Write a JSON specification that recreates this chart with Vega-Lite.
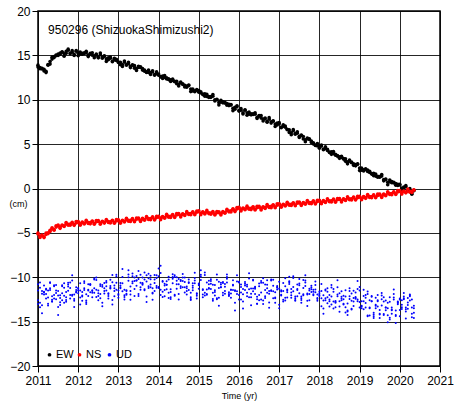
{
  "$schema": "https://vega.github.io/schema/vega-lite/v6.json",
  "width": 402,
  "height": 355,
  "autosize": {"type": "none"},
  "padding": {"left": 38, "top": 11, "right": 28, "bottom": 38},
  "background": "white",
  "config": {
    "font": "Liberation Sans",
    "view": {"stroke": "black", "strokeWidth": 1.5},
    "axis": {"grid": true, "labelColor": "black", "titleColor": "black", "tickColor": "black", "domain": false, "gridColor": "black", "gridOpacity": 0.85, "gridWidth": 1, "labelFontSize": 12, "tickSize": 6}
  },
  "data": {"values": [
{"t":2011.00,"EW":13.9,"EW2":13.68,"NS":-5.12,"NS2":-5.02,"UD":-11.5,"UD2":-12.6,"UD3":-10.8,"UD4":-13.0},
{"t":2011.05,"EW":13.5,"EW2":13.62,"NS":-5.37,"NS2":-5.51,"UD":-12.88,"UD2":-11.18,"UD3":-13.38,"UD4":-10.58},
{"t":2011.10,"EW":13.55,"EW2":13.47,"NS":-5.3,"NS2":-5.24,"UD":-11.85,"UD2":-13.15,"UD3":-11.55,"UD4":-14.05},
{"t":2011.15,"EW":13.25,"EW2":13.43,"NS":-5.45,"NS2":-5.53,"UD":-10.93,"UD2":-11.93,"UD3":-11.73,"UD4":-11.63},
{"t":2011.20,"EW":13.2,"EW2":13.06,"NS":-5.18,"NS2":-5.03,"UD":-12.4,"UD2":-11.3,"UD3":-11.9,"UD4":-11.4},
{"t":2011.25,"EW":13.9,"EW2":13.96,"NS":-5.08,"NS2":-4.98,"UD":-12.98,"UD2":-12.28,"UD3":-13.18,"UD4":-11.48},
{"t":2011.30,"EW":14.3,"EW2":14.02,"NS":-4.7,"NS2":-4.84,"UD":-11.45,"UD2":-10.65,"UD3":-10.55,"UD4":-11.25},
{"t":2011.35,"EW":14.8,"EW2":14.58,"NS":-4.5,"NS2":-4.44,"UD":-12.13,"UD2":-12.73,"UD3":-12.73,"UD4":-12.53},
{"t":2011.40,"EW":14.75,"EW2":14.87,"NS":-4.62,"NS2":-4.7,"UD":-11.0,"UD2":-12.0,"UD3":-10.9,"UD4":-12.4},
{"t":2011.45,"EW":15.05,"EW2":14.97,"NS":-4.35,"NS2":-4.2,"UD":-12.48,"UD2":-11.48,"UD3":-11.78,"UD4":-10.88},
{"t":2011.50,"EW":14.98,"EW2":15.16,"NS":-4.22,"NS2":-4.12,"UD":-11.55,"UD2":-13.35,"UD3":-12.05,"UD4":-14.25},
{"t":2011.55,"EW":15.26,"EW2":15.12,"NS":-4.35,"NS2":-4.49,"UD":-13.13,"UD2":-12.33,"UD3":-12.83,"UD4":-12.03},
{"t":2011.60,"EW":15.35,"EW2":15.41,"NS":-4.17,"NS2":-4.11,"UD":-11.8,"UD2":-10.9,"UD3":-12.6,"UD4":-11.0},
{"t":2011.65,"EW":15.18,"EW2":14.9,"NS":-4.2,"NS2":-4.28,"UD":-11.18,"UD2":-12.88,"UD3":-10.68,"UD4":-12.08},
{"t":2011.70,"EW":15.45,"EW2":15.23,"NS":-3.98,"NS2":-3.83,"UD":-12.55,"UD2":-11.65,"UD3":-12.75,"UD4":-12.25},
{"t":2011.75,"EW":15.58,"EW2":15.7,"NS":-4.13,"NS2":-4.03,"UD":-11.53,"UD2":-11.03,"UD3":-10.63,"UD4":-10.83},
{"t":2011.80,"EW":15.27,"EW2":15.19,"NS":-4.0,"NS2":-4.14,"UD":-10.6,"UD2":-12.0,"UD3":-11.2,"UD4":-12.4},
{"t":2011.85,"EW":15.35,"EW2":15.53,"NS":-3.88,"NS2":-3.82,"UD":-12.08,"UD2":-10.38,"UD3":-11.98,"UD4":-9.78},
{"t":2011.90,"EW":15.13,"EW2":14.99,"NS":-4.07,"NS2":-4.15,"UD":-12.65,"UD2":-12.45,"UD3":-11.95,"UD4":-13.35},
{"t":2011.95,"EW":15.47,"EW2":15.53,"NS":-3.88,"NS2":-3.73,"UD":-11.13,"UD2":-11.73,"UD3":-11.63,"UD4":-11.43},
{"t":2012.00,"EW":15.25,"EW2":14.97,"NS":-3.82,"NS2":-3.72,"UD":-11.8,"UD2":-11.2,"UD3":-11.5,"UD4":-11.3},
{"t":2012.05,"EW":15.37,"EW2":15.15,"NS":-3.99,"NS2":-4.13,"UD":-10.68,"UD2":-13.08,"UD3":-11.48,"UD4":-12.28},
{"t":2012.10,"EW":15.12,"EW2":15.24,"NS":-3.85,"NS2":-3.79,"UD":-12.16,"UD2":-12.06,"UD3":-11.66,"UD4":-12.66},
{"t":2012.15,"EW":15.29,"EW2":15.21,"NS":-3.92,"NS2":-4.0,"UD":-11.24,"UD2":-10.64,"UD3":-11.44,"UD4":-10.44},
{"t":2012.20,"EW":15.28,"EW2":15.46,"NS":-3.74,"NS2":-3.59,"UD":-12.82,"UD2":-12.62,"UD3":-11.92,"UD4":-13.02},
{"t":2012.25,"EW":15.0,"EW2":14.86,"NS":-3.93,"NS2":-3.83,"UD":-11.5,"UD2":-11.4,"UD3":-12.1,"UD4":-10.8},
{"t":2012.30,"EW":15.17,"EW2":15.23,"NS":-3.84,"NS2":-3.98,"UD":-10.88,"UD2":-10.78,"UD3":-10.78,"UD4":-11.68},
{"t":2012.35,"EW":15.29,"EW2":15.01,"NS":-3.73,"NS2":-3.67,"UD":-12.26,"UD2":-11.76,"UD3":-11.56,"UD4":-11.46},
{"t":2012.40,"EW":14.96,"EW2":14.74,"NS":-3.94,"NS2":-4.02,"UD":-11.24,"UD2":-10.14,"UD3":-11.74,"UD4":-10.24},
{"t":2012.45,"EW":15.03,"EW2":15.15,"NS":-3.76,"NS2":-3.61,"UD":-10.32,"UD2":-12.22,"UD3":-10.02,"UD4":-11.42},
{"t":2012.50,"EW":14.8,"EW2":14.72,"NS":-3.72,"NS2":-3.62,"UD":-11.8,"UD2":-11.5,"UD3":-12.6,"UD4":-12.1},
{"t":2012.55,"EW":15.08,"EW2":15.26,"NS":-3.89,"NS2":-4.03,"UD":-12.38,"UD2":-10.98,"UD3":-11.88,"UD4":-10.78},
{"t":2012.60,"EW":14.81,"EW2":14.67,"NS":-3.75,"NS2":-3.69,"UD":-10.86,"UD2":-12.86,"UD3":-11.06,"UD4":-13.26},
{"t":2012.65,"EW":14.89,"EW2":14.95,"NS":-3.82,"NS2":-3.9,"UD":-11.54,"UD2":-11.84,"UD3":-10.64,"UD4":-11.24},
{"t":2012.70,"EW":14.6,"EW2":14.32,"NS":-3.64,"NS2":-3.49,"UD":-10.42,"UD2":-10.6,"UD3":-11.02,"UD4":-11.5},
{"t":2012.75,"EW":14.73,"EW2":14.51,"NS":-3.83,"NS2":-3.73,"UD":-11.9,"UD2":-12.4,"UD3":-11.8,"UD4":-12.1},
{"t":2012.80,"EW":14.68,"EW2":14.8,"NS":-3.74,"NS2":-3.88,"UD":-10.98,"UD2":-11.18,"UD3":-10.28,"UD4":-11.28},
{"t":2012.85,"EW":14.36,"EW2":14.28,"NS":-3.63,"NS2":-3.57,"UD":-12.56,"UD2":-10.56,"UD3":-13.06,"UD4":-9.76},
{"t":2012.90,"EW":14.49,"EW2":14.67,"NS":-3.84,"NS2":-3.92,"UD":-11.24,"UD2":-11.54,"UD3":-10.94,"UD4":-12.14},
{"t":2012.95,"EW":14.57,"EW2":14.43,"NS":-3.66,"NS2":-3.51,"UD":-10.62,"UD2":-9.92,"UD3":-11.42,"UD4":-9.72},
{"t":2013.00,"EW":14.2,"EW2":14.26,"NS":-3.62,"NS2":-3.52,"UD":-12.0,"UD2":-11.9,"UD3":-11.5,"UD4":-12.3},
{"t":2013.05,"EW":14.23,"EW2":13.95,"NS":-3.78,"NS2":-3.92,"UD":-10.94,"UD2":-11.24,"UD3":-11.14,"UD4":-10.64},
{"t":2013.10,"EW":13.96,"EW2":13.74,"NS":-3.63,"NS2":-3.57,"UD":-9.98,"UD2":-10.68,"UD3":-9.08,"UD4":-11.58},
{"t":2013.15,"EW":14.24,"EW2":14.36,"NS":-3.69,"NS2":-3.77,"UD":-11.42,"UD2":-12.52,"UD3":-12.02,"UD4":-12.22},
{"t":2013.20,"EW":13.97,"EW2":13.89,"NS":-3.5,"NS2":-3.35,"UD":-11.96,"UD2":-11.46,"UD3":-11.86,"UD4":-11.56},
{"t":2013.25,"EW":14.05,"EW2":14.23,"NS":-3.68,"NS2":-3.58,"UD":-10.4,"UD2":-10.0,"UD3":-9.7,"UD4":-9.2},
{"t":2013.30,"EW":13.76,"EW2":13.62,"NS":-3.58,"NS2":-3.72,"UD":-11.04,"UD2":-11.94,"UD3":-11.54,"UD4":-12.54},
{"t":2013.35,"EW":13.89,"EW2":13.95,"NS":-3.46,"NS2":-3.4,"UD":-9.88,"UD2":-10.68,"UD3":-9.58,"UD4":-10.48},
{"t":2013.40,"EW":13.84,"EW2":13.56,"NS":-3.66,"NS2":-3.74,"UD":-11.32,"UD2":-10.02,"UD3":-12.12,"UD4":-10.42},
{"t":2013.45,"EW":13.52,"EW2":13.3,"NS":-3.47,"NS2":-3.32,"UD":-10.36,"UD2":-10.96,"UD3":-9.86,"UD4":-10.36},
{"t":2013.50,"EW":13.65,"EW2":13.77,"NS":-3.42,"NS2":-3.32,"UD":-11.9,"UD2":-9.3,"UD3":-12.1,"UD4":-10.2},
{"t":2013.55,"EW":13.72,"EW2":13.64,"NS":-3.58,"NS2":-3.72,"UD":-10.62,"UD2":-11.42,"UD3":-9.72,"UD4":-11.12},
{"t":2013.60,"EW":13.34,"EW2":13.52,"NS":-3.43,"NS2":-3.37,"UD":-10.04,"UD2":-10.74,"UD3":-10.64,"UD4":-10.84},
{"t":2013.65,"EW":13.36,"EW2":13.22,"NS":-3.49,"NS2":-3.57,"UD":-11.46,"UD2":-10.26,"UD3":-11.36,"UD4":-9.46},
{"t":2013.70,"EW":13.08,"EW2":13.14,"NS":-3.3,"NS2":-3.15,"UD":-10.48,"UD2":-12.18,"UD3":-9.78,"UD4":-12.78},
{"t":2013.75,"EW":13.35,"EW2":13.07,"NS":-3.48,"NS2":-3.38,"UD":-9.6,"UD2":-11.2,"UD3":-10.1,"UD4":-11.0},
{"t":2013.80,"EW":13.07,"EW2":12.85,"NS":-3.38,"NS2":-3.52,"UD":-11.12,"UD2":-9.82,"UD3":-10.82,"UD4":-10.22},
{"t":2013.85,"EW":13.14,"EW2":13.26,"NS":-3.26,"NS2":-3.2,"UD":-11.74,"UD2":-11.84,"UD3":-12.54,"UD4":-11.24},
{"t":2013.90,"EW":12.84,"EW2":12.76,"NS":-3.46,"NS2":-3.54,"UD":-10.26,"UD2":-10.66,"UD3":-9.76,"UD4":-11.56},
{"t":2013.95,"EW":12.96,"EW2":13.14,"NS":-3.27,"NS2":-3.12,"UD":-10.98,"UD2":-10.08,"UD3":-11.18,"UD4":-9.78},
{"t":2014.00,"EW":12.9,"EW2":12.76,"NS":-3.22,"NS2":-3.12,"UD":-9.9,"UD2":-11.1,"UD3":-9.0,"UD4":-11.2},
{"t":2014.05,"EW":12.56,"EW2":12.62,"NS":-3.37,"NS2":-3.51,"UD":-11.41,"UD2":-9.51,"UD3":-12.01,"UD4":-8.71},
{"t":2014.10,"EW":12.67,"EW2":12.39,"NS":-3.21,"NS2":-3.15,"UD":-10.52,"UD2":-11.62,"UD3":-10.42,"UD4":-12.22},
{"t":2014.15,"EW":12.73,"EW2":12.51,"NS":-3.26,"NS2":-3.34,"UD":-12.13,"UD2":-10.93,"UD3":-11.43,"UD4":-10.73},
{"t":2014.20,"EW":12.34,"EW2":12.46,"NS":-3.06,"NS2":-2.91,"UD":-10.84,"UD2":-10.44,"UD3":-11.34,"UD4":-10.84},
{"t":2014.25,"EW":12.35,"EW2":12.27,"NS":-3.23,"NS2":-3.13,"UD":-10.25,"UD2":-12.35,"UD3":-9.95,"UD4":-11.75},
{"t":2014.30,"EW":12.06,"EW2":12.24,"NS":-3.12,"NS2":-3.26,"UD":-11.66,"UD2":-11.36,"UD3":-12.46,"UD4":-12.26},
{"t":2014.35,"EW":12.32,"EW2":12.18,"NS":-2.99,"NS2":-2.93,"UD":-10.67,"UD2":-9.97,"UD3":-10.17,"UD4":-9.67},
{"t":2014.40,"EW":12.03,"EW2":12.09,"NS":-3.18,"NS2":-3.26,"UD":-9.78,"UD2":-11.98,"UD3":-9.98,"UD4":-12.08},
{"t":2014.45,"EW":12.09,"EW2":11.81,"NS":-2.98,"NS2":-2.83,"UD":-11.29,"UD2":-10.79,"UD3":-10.39,"UD4":-9.99},
{"t":2014.50,"EW":11.78,"EW2":11.56,"NS":-2.92,"NS2":-2.82,"UD":-11.9,"UD2":-10.2,"UD3":-12.5,"UD4":-10.8},
{"t":2014.55,"EW":11.88,"EW2":12.0,"NS":-3.07,"NS2":-3.21,"UD":-10.41,"UD2":-11.21,"UD3":-10.31,"UD4":-11.01},
{"t":2014.60,"EW":11.8,"EW2":11.72,"NS":-2.91,"NS2":-2.85,"UD":-11.12,"UD2":-9.62,"UD3":-10.42,"UD4":-10.02},
{"t":2014.65,"EW":11.45,"EW2":11.63,"NS":-2.96,"NS2":-3.04,"UD":-10.03,"UD2":-11.73,"UD3":-10.53,"UD4":-11.13},
{"t":2014.70,"EW":11.55,"EW2":11.41,"NS":-2.76,"NS2":-2.61,"UD":-11.54,"UD2":-11.04,"UD3":-11.24,"UD4":-11.94},
{"t":2014.75,"EW":11.6,"EW2":11.66,"NS":-2.93,"NS2":-2.83,"UD":-10.65,"UD2":-10.55,"UD3":-11.45,"UD4":-10.25},
{"t":2014.80,"EW":11.2,"EW2":10.92,"NS":-2.82,"NS2":-2.96,"UD":-12.26,"UD2":-12.46,"UD3":-11.76,"UD4":-12.56},
{"t":2014.85,"EW":11.2,"EW2":10.98,"NS":-2.69,"NS2":-2.63,"UD":-10.97,"UD2":-11.47,"UD3":-11.17,"UD4":-10.67},
{"t":2014.90,"EW":10.9,"EW2":11.02,"NS":-2.88,"NS2":-2.96,"UD":-10.38,"UD2":-10.08,"UD3":-9.48,"UD4":-10.68},
{"t":2014.95,"EW":11.15,"EW2":11.07,"NS":-2.68,"NS2":-2.53,"UD":-11.79,"UD2":-12.09,"UD3":-12.39,"UD4":-11.89},
{"t":2015.00,"EW":10.85,"EW2":11.03,"NS":-2.62,"NS2":-2.52,"UD":-10.8,"UD2":-10.9,"UD3":-10.7,"UD4":-11.3},
{"t":2015.05,"EW":10.9,"EW2":10.76,"NS":-2.81,"NS2":-2.95,"UD":-9.92,"UD2":-10.32,"UD3":-9.22,"UD4":-9.72},
{"t":2015.10,"EW":10.58,"EW2":10.64,"NS":-2.69,"NS2":-2.63,"UD":-11.44,"UD2":-11.34,"UD3":-11.94,"UD4":-12.24},
{"t":2015.15,"EW":10.68,"EW2":10.4,"NS":-2.78,"NS2":-2.86,"UD":-12.06,"UD2":-9.76,"UD3":-11.76,"UD4":-9.46},
{"t":2015.20,"EW":10.6,"EW2":10.38,"NS":-2.62,"NS2":-2.47,"UD":-10.58,"UD2":-11.88,"UD3":-11.38,"UD4":-11.98},
{"t":2015.25,"EW":10.25,"EW2":10.37,"NS":-2.83,"NS2":-2.73,"UD":-11.3,"UD2":-11.2,"UD3":-10.8,"UD4":-10.4},
{"t":2015.30,"EW":10.35,"EW2":10.27,"NS":-2.76,"NS2":-2.9,"UD":-10.22,"UD2":-10.72,"UD3":-10.42,"UD4":-11.32},
{"t":2015.35,"EW":10.4,"EW2":10.58,"NS":-2.67,"NS2":-2.61,"UD":-11.74,"UD2":-12.64,"UD3":-10.84,"UD4":-12.44},
{"t":2015.40,"EW":10.0,"EW2":9.86,"NS":-2.9,"NS2":-2.98,"UD":-10.86,"UD2":-11.66,"UD3":-11.46,"UD4":-12.06},
{"t":2015.45,"EW":10.0,"EW2":10.06,"NS":-2.74,"NS2":-2.59,"UD":-12.48,"UD2":-10.28,"UD3":-12.38,"UD4":-9.68},
{"t":2015.50,"EW":9.7,"EW2":9.42,"NS":-2.72,"NS2":-2.62,"UD":-11.2,"UD2":-12.3,"UD3":-10.5,"UD4":-13.2},
{"t":2015.55,"EW":9.95,"EW2":9.73,"NS":-2.85,"NS2":-2.99,"UD":-10.62,"UD2":-11.12,"UD3":-11.12,"UD4":-10.82},
{"t":2015.60,"EW":9.65,"EW2":9.77,"NS":-2.67,"NS2":-2.61,"UD":-12.04,"UD2":-10.54,"UD3":-11.74,"UD4":-10.64},
{"t":2015.65,"EW":9.7,"EW2":9.62,"NS":-2.7,"NS2":-2.78,"UD":-11.06,"UD2":-11.56,"UD3":-11.86,"UD4":-10.76},
{"t":2015.70,"EW":9.38,"EW2":9.56,"NS":-2.48,"NS2":-2.33,"UD":-10.18,"UD2":-9.98,"UD3":-9.68,"UD4":-10.58},
{"t":2015.75,"EW":9.48,"EW2":9.34,"NS":-2.63,"NS2":-2.53,"UD":-11.7,"UD2":-12.1,"UD3":-11.9,"UD4":-12.0},
{"t":2015.80,"EW":9.4,"EW2":9.46,"NS":-2.5,"NS2":-2.64,"UD":-12.32,"UD2":-11.42,"UD3":-11.42,"UD4":-11.82},
{"t":2015.85,"EW":9.05,"EW2":8.77,"NS":-2.35,"NS2":-2.29,"UD":-10.84,"UD2":-10.94,"UD3":-11.44,"UD4":-10.34},
{"t":2015.90,"EW":9.15,"EW2":8.93,"NS":-2.52,"NS2":-2.6,"UD":-11.56,"UD2":-12.86,"UD3":-11.46,"UD4":-13.76},
{"t":2015.95,"EW":9.2,"EW2":9.32,"NS":-2.3,"NS2":-2.15,"UD":-10.48,"UD2":-11.88,"UD3":-9.78,"UD4":-11.58},
{"t":2016.00,"EW":8.8,"EW2":8.72,"NS":-2.22,"NS2":-2.12,"UD":-12.0,"UD2":-10.5,"UD3":-12.5,"UD4":-10.6},
{"t":2016.05,"EW":8.82,"EW2":9.0,"NS":-2.39,"NS2":-2.53,"UD":-11.11,"UD2":-12.51,"UD3":-10.81,"UD4":-11.71},
{"t":2016.10,"EW":8.54,"EW2":8.4,"NS":-2.25,"NS2":-2.19,"UD":-12.72,"UD2":-11.32,"UD3":-13.52,"UD4":-11.92},
{"t":2016.15,"EW":8.81,"EW2":8.87,"NS":-2.32,"NS2":-2.4,"UD":-11.43,"UD2":-10.73,"UD3":-10.93,"UD4":-10.53},
{"t":2016.20,"EW":8.53,"EW2":8.25,"NS":-2.14,"NS2":-1.99,"UD":-10.84,"UD2":-11.74,"UD3":-11.04,"UD4":-12.14},
{"t":2016.25,"EW":8.6,"EW2":8.38,"NS":-2.33,"NS2":-2.23,"UD":-12.25,"UD2":-10.15,"UD3":-11.35,"UD4":-9.55},
{"t":2016.30,"EW":8.3,"EW2":8.42,"NS":-2.24,"NS2":-2.38,"UD":-11.26,"UD2":-12.26,"UD3":-11.86,"UD4":-13.16},
{"t":2016.35,"EW":8.42,"EW2":8.34,"NS":-2.13,"NS2":-2.07,"UD":-10.37,"UD2":-11.57,"UD3":-10.27,"UD4":-11.27},
{"t":2016.40,"EW":8.36,"EW2":8.54,"NS":-2.34,"NS2":-2.42,"UD":-11.88,"UD2":-11.08,"UD3":-11.18,"UD4":-11.3},
{"t":2016.45,"EW":8.03,"EW2":7.89,"NS":-2.16,"NS2":-2.01,"UD":-12.49,"UD2":-12.99,"UD3":-12.99,"UD4":-12.19},
{"t":2016.50,"EW":8.15,"EW2":8.21,"NS":-2.12,"NS2":-2.02,"UD":-11.0,"UD2":-12.0,"UD3":-10.7,"UD4":-12.6},
{"t":2016.55,"EW":8.21,"EW2":7.93,"NS":-2.27,"NS2":-2.41,"UD":-11.71,"UD2":-10.61,"UD3":-12.51,"UD4":-10.41},
{"t":2016.60,"EW":7.82,"EW2":7.6,"NS":-2.11,"NS2":-2.05,"UD":-10.62,"UD2":-12.62,"UD3":-10.12,"UD4":-13.02},
{"t":2016.65,"EW":7.83,"EW2":7.95,"NS":-2.16,"NS2":-2.24,"UD":-12.13,"UD2":-11.43,"UD3":-12.33,"UD4":-10.83},
{"t":2016.70,"EW":7.54,"EW2":7.46,"NS":-1.96,"NS2":-1.81,"UD":-11.24,"UD2":-10.84,"UD3":-10.34,"UD4":-11.74},
{"t":2016.75,"EW":7.8,"EW2":7.98,"NS":-2.13,"NS2":-2.03,"UD":-12.85,"UD2":-11.85,"UD3":-13.45,"UD4":-11.55},
{"t":2016.80,"EW":7.51,"EW2":7.37,"NS":-2.02,"NS2":-2.16,"UD":-11.56,"UD2":-10.26,"UD3":-11.46,"UD4":-10.36},
{"t":2016.85,"EW":7.57,"EW2":7.63,"NS":-1.89,"NS2":-1.83,"UD":-10.97,"UD2":-12.37,"UD3":-10.27,"UD4":-11.57},
{"t":2016.90,"EW":7.26,"EW2":6.98,"NS":-2.08,"NS2":-2.16,"UD":-12.38,"UD2":-11.68,"UD3":-12.88,"UD4":-12.28},
{"t":2016.95,"EW":7.37,"EW2":7.15,"NS":-1.88,"NS2":-1.73,"UD":-11.39,"UD2":-11.19,"UD3":-11.09,"UD4":-10.99},
{"t":2017.00,"EW":7.3,"EW2":7.42,"NS":-1.82,"NS2":-1.72,"UD":-10.5,"UD2":-13.1,"UD3":-11.3,"UD4":-13.5},
{"t":2017.05,"EW":6.93,"EW2":6.85,"NS":-1.98,"NS2":-2.12,"UD":-11.97,"UD2":-12.07,"UD3":-11.47,"UD4":-11.6},
{"t":2017.10,"EW":7.01,"EW2":7.19,"NS":-1.83,"NS2":-1.77,"UD":-12.54,"UD2":-10.64,"UD3":-12.74,"UD4":-11.54},
{"t":2017.15,"EW":7.04,"EW2":6.9,"NS":-1.89,"NS2":-1.97,"UD":-11.01,"UD2":-12.61,"UD3":-10.11,"UD4":-12.31},
{"t":2017.20,"EW":6.62,"EW2":6.68,"NS":-1.7,"NS2":-1.55,"UD":-11.68,"UD2":-11.38,"UD3":-12.28,"UD4":-11.48},
{"t":2017.25,"EW":6.6,"EW2":6.32,"NS":-1.88,"NS2":-1.78,"UD":-10.55,"UD2":-10.75,"UD3":-10.45,"UD4":-9.95},
{"t":2017.30,"EW":6.28,"EW2":6.06,"NS":-1.78,"NS2":-1.92,"UD":-12.02,"UD2":-11.72,"UD3":-11.32,"UD4":-12.32},
{"t":2017.35,"EW":6.51,"EW2":6.63,"NS":-1.66,"NS2":-1.6,"UD":-11.09,"UD2":-10.09,"UD3":-11.59,"UD4":-9.89},
{"t":2017.40,"EW":6.19,"EW2":6.11,"NS":-1.86,"NS2":-1.94,"UD":-12.66,"UD2":-12.16,"UD3":-12.36,"UD4":-12.56},
{"t":2017.45,"EW":6.22,"EW2":6.4,"NS":-1.67,"NS2":-1.52,"UD":-11.33,"UD2":-11.43,"UD3":-12.13,"UD4":-10.83},
{"t":2017.50,"EW":5.88,"EW2":5.74,"NS":-1.62,"NS2":-1.52,"UD":-10.7,"UD2":-10.9,"UD3":-10.2,"UD4":-11.8},
{"t":2017.55,"EW":5.96,"EW2":6.02,"NS":-1.78,"NS2":-1.92,"UD":-12.16,"UD2":-12.86,"UD3":-12.36,"UD4":-12.56},
{"t":2017.60,"EW":5.86,"EW2":5.58,"NS":-1.63,"NS2":-1.57,"UD":-11.22,"UD2":-11.92,"UD3":-10.32,"UD4":-12.02},
{"t":2017.65,"EW":5.49,"EW2":5.27,"NS":-1.69,"NS2":-1.77,"UD":-10.38,"UD2":-10.58,"UD3":-10.98,"UD4":-9.78},
{"t":2017.70,"EW":5.57,"EW2":5.69,"NS":-1.5,"NS2":-1.35,"UD":-11.94,"UD2":-12.64,"UD3":-11.84,"UD4":-13.24},
{"t":2017.75,"EW":5.6,"EW2":5.52,"NS":-1.68,"NS2":-1.58,"UD":-12.6,"UD2":-11.5,"UD3":-11.9,"UD4":-11.3},
{"t":2017.80,"EW":5.18,"EW2":5.36,"NS":-1.58,"NS2":-1.72,"UD":-11.16,"UD2":-10.96,"UD3":-11.66,"UD4":-11.36},
{"t":2017.85,"EW":5.16,"EW2":5.02,"NS":-1.46,"NS2":-1.4,"UD":-11.92,"UD2":-12.02,"UD3":-11.62,"UD4":-11.42},
{"t":2017.90,"EW":4.84,"EW2":4.9,"NS":-1.66,"NS2":-1.74,"UD":-10.88,"UD2":-10.48,"UD3":-11.68,"UD4":-11.38},
{"t":2017.95,"EW":5.07,"EW2":4.79,"NS":-1.47,"NS2":-1.32,"UD":-12.44,"UD2":-12.64,"UD3":-11.94,"UD4":-12.34},
{"t":2018.00,"EW":4.75,"EW2":4.53,"NS":-1.42,"NS2":-1.32,"UD":-11.6,"UD2":-12.0,"UD3":-11.8,"UD4":-12.1},
{"t":2018.05,"EW":4.78,"EW2":4.9,"NS":-1.58,"NS2":-1.72,"UD":-13.26,"UD2":-11.56,"UD3":-12.36,"UD4":-10.76},
{"t":2018.10,"EW":4.44,"EW2":4.36,"NS":-1.43,"NS2":-1.37,"UD":-12.02,"UD2":-13.52,"UD3":-12.62,"UD4":-14.12},
{"t":2018.15,"EW":4.52,"EW2":4.7,"NS":-1.49,"NS2":-1.57,"UD":-11.48,"UD2":-12.58,"UD3":-11.38,"UD4":-12.38},
{"t":2018.20,"EW":4.42,"EW2":4.28,"NS":-1.3,"NS2":-1.15,"UD":-12.94,"UD2":-11.24,"UD3":-12.24,"UD4":-11.64},
{"t":2018.25,"EW":4.05,"EW2":4.11,"NS":-1.48,"NS2":-1.38,"UD":-12.0,"UD2":-13.3,"UD3":-12.5,"UD4":-12.7},
{"t":2018.30,"EW":4.13,"EW2":3.85,"NS":-1.38,"NS2":-1.52,"UD":-11.16,"UD2":-12.16,"UD3":-10.86,"UD4":-13.06},
{"t":2018.35,"EW":4.16,"EW2":3.94,"NS":-1.26,"NS2":-1.2,"UD":-12.72,"UD2":-11.62,"UD3":-13.52,"UD4":-11.32},
{"t":2018.40,"EW":3.74,"EW2":3.86,"NS":-1.46,"NS2":-1.54,"UD":-13.38,"UD2":-12.68,"UD3":-12.88,"UD4":-12.78},
{"t":2018.45,"EW":3.72,"EW2":3.64,"NS":-1.27,"NS2":-1.12,"UD":-11.94,"UD2":-11.14,"UD3":-12.14,"UD4":-10.34},
{"t":2018.50,"EW":3.4,"EW2":3.58,"NS":-1.22,"NS2":-1.12,"UD":-12.7,"UD2":-13.3,"UD3":-11.8,"UD4":-13.9},
{"t":2018.55,"EW":3.63,"EW2":3.49,"NS":-1.38,"NS2":-1.52,"UD":-11.59,"UD2":-12.59,"UD3":-12.19,"UD4":-12.39},
{"t":2018.60,"EW":3.31,"EW2":3.37,"NS":-1.22,"NS2":-1.16,"UD":-13.08,"UD2":-12.08,"UD3":-12.98,"UD4":-12.48},
{"t":2018.65,"EW":3.34,"EW2":3.06,"NS":-1.28,"NS2":-1.36,"UD":-12.17,"UD2":-13.97,"UD3":-11.47,"UD4":-13.37},
{"t":2018.70,"EW":3.0,"EW2":2.78,"NS":-1.08,"NS2":-0.93,"UD":-13.76,"UD2":-12.96,"UD3":-14.26,"UD4":-13.86},
{"t":2018.75,"EW":3.08,"EW2":3.2,"NS":-1.26,"NS2":-1.16,"UD":-12.45,"UD2":-11.55,"UD3":-12.15,"UD4":-11.25},
{"t":2018.80,"EW":2.98,"EW2":2.9,"NS":-1.15,"NS2":-1.29,"UD":-11.84,"UD2":-13.54,"UD3":-12.64,"UD4":-13.64},
{"t":2018.85,"EW":2.61,"EW2":2.79,"NS":-1.03,"NS2":-0.97,"UD":-13.23,"UD2":-12.33,"UD3":-12.73,"UD4":-11.53},
{"t":2018.90,"EW":2.69,"EW2":2.55,"NS":-1.22,"NS2":-1.3,"UD":-12.22,"UD2":-11.72,"UD3":-12.42,"UD4":-12.32},
{"t":2018.95,"EW":2.72,"EW2":2.78,"NS":-1.03,"NS2":-0.88,"UD":-11.31,"UD2":-12.71,"UD3":-10.41,"UD4":-12.51},
{"t":2019.00,"EW":2.3,"EW2":2.02,"NS":-0.97,"NS2":-0.87,"UD":-12.8,"UD2":-11.1,"UD3":-13.4,"UD4":-11.5},
{"t":2019.05,"EW":2.29,"EW2":2.07,"NS":-1.13,"NS2":-1.27,"UD":-13.5,"UD2":-13.3,"UD3":-13.2,"UD4":-12.7},
{"t":2019.10,"EW":1.98,"EW2":2.1,"NS":-0.97,"NS2":-0.91,"UD":-12.1,"UD2":-12.7,"UD3":-11.4,"UD4":-13.6},
{"t":2019.15,"EW":2.22,"EW2":2.14,"NS":-1.03,"NS2":-1.11,"UD":-12.9,"UD2":-12.3,"UD3":-13.4,"UD4":-12.0},
{"t":2019.20,"EW":1.91,"EW2":2.09,"NS":-0.83,"NS2":-0.68,"UD":-11.9,"UD2":-14.3,"UD3":-11.6,"UD4":-14.4},
{"t":2019.25,"EW":1.95,"EW2":1.81,"NS":-1.01,"NS2":-0.91,"UD":-13.5,"UD2":-13.4,"UD3":-14.3,"UD4":-12.6},
{"t":2019.30,"EW":1.62,"EW2":1.68,"NS":-0.9,"NS2":-1.04,"UD":-12.7,"UD2":-12.1,"UD3":-12.2,"UD4":-12.7},
{"t":2019.35,"EW":1.71,"EW2":1.43,"NS":-0.78,"NS2":-0.72,"UD":-14.4,"UD2":-14.2,"UD3":-14.6,"UD4":-14.0},
{"t":2019.40,"EW":1.62,"EW2":1.4,"NS":-0.97,"NS2":-1.05,"UD":-13.2,"UD2":-13.1,"UD3":-12.3,"UD4":-13.5},
{"t":2019.45,"EW":1.26,"EW2":1.38,"NS":-0.78,"NS2":-0.63,"UD":-12.7,"UD2":-12.6,"UD3":-13.3,"UD4":-12.0},
{"t":2019.50,"EW":1.35,"EW2":1.27,"NS":-0.72,"NS2":-0.62,"UD":-14.2,"UD2":-13.7,"UD3":-14.1,"UD4":-14.6},
{"t":2019.55,"EW":1.4,"EW2":1.58,"NS":-0.86,"NS2":-1.0,"UD":-13.17,"UD2":-12.07,"UD3":-12.47,"UD4":-11.77},
{"t":2019.60,"EW":1.0,"EW2":0.86,"NS":-0.69,"NS2":-0.63,"UD":-12.24,"UD2":-14.14,"UD3":-12.74,"UD4":-14.24},
{"t":2019.65,"EW":1.0,"EW2":1.06,"NS":-0.73,"NS2":-0.81,"UD":-13.71,"UD2":-13.41,"UD3":-13.41,"UD4":-12.61},
{"t":2019.70,"EW":0.7,"EW2":0.42,"NS":-0.52,"NS2":-0.37,"UD":-14.28,"UD2":-12.88,"UD3":-15.08,"UD4":-13.48},
{"t":2019.75,"EW":0.95,"EW2":0.73,"NS":-0.68,"NS2":-0.58,"UD":-12.75,"UD2":-14.75,"UD3":-12.25,"UD4":-14.55},
{"t":2019.80,"EW":0.65,"EW2":0.77,"NS":-0.56,"NS2":-0.7,"UD":-13.42,"UD2":-13.72,"UD3":-13.62,"UD4":-14.12},
{"t":2019.85,"EW":0.7,"EW2":0.62,"NS":-0.42,"NS2":-0.36,"UD":-12.29,"UD2":-12.5,"UD3":-11.39,"UD4":-11.9},
{"t":2019.90,"EW":0.38,"EW2":0.56,"NS":-0.6,"NS2":-0.68,"UD":-13.76,"UD2":-14.26,"UD3":-14.36,"UD4":-15.16},
{"t":2019.95,"EW":0.48,"EW2":0.34,"NS":-0.39,"NS2":-0.24,"UD":-12.83,"UD2":-13.03,"UD3":-12.73,"UD4":-12.9},
{"t":2020.00,"EW":0.4,"EW2":0.46,"NS":-0.32,"NS2":-0.22,"UD":-14.4,"UD2":-12.4,"UD3":-13.7,"UD4":-12.5},
{"t":2020.05,"EW":0.05,"EW2":-0.23,"NS":-0.49,"NS2":-0.63,"UD":-13.09,"UD2":-13.39,"UD3":-13.59,"UD4":-12.59},
{"t":2020.10,"EW":0.15,"EW2":-0.07,"NS":-0.34,"NS2":-0.28,"UD":-12.47,"UD2":-11.77,"UD3":-12.17,"UD4":-12.37},
{"t":2020.15,"EW":0.2,"EW2":0.32,"NS":-0.41,"NS2":-0.49,"UD":-13.86,"UD2":-13.6,"UD3":-14.66,"UD4":-13.4},
{"t":2020.20,"EW":-0.2,"EW2":-0.28,"NS":-0.22,"NS2":-0.07,"UD":-12.84,"UD2":-13.14,"UD3":-12.34,"UD4":-13.54},
{"t":2020.25,"EW":-0.2,"EW2":-0.02,"NS":-0.41,"NS2":-0.31,"UD":-11.93,"UD2":-12.63,"UD3":-12.13,"UD4":-12.03},
{"t":2020.30,"EW":-0.5,"EW2":-0.64,"NS":-0.31,"NS2":-0.45,"UD":-13.41,"UD2":-14.51,"UD3":-12.51,"UD4":-14.1},
{"t":2020.35,"EW":-0.25,"EW2":-0.19,"NS":-0.2,"NS2":-0.14,"UD":-14.0,"UD2":-13.5,"UD3":-14.6,"UD4":-13.2}
  ]},
  "encoding": {
    "x": {"field": "t", "type": "quantitative", "scale": {"domain": [2011, 2021], "nice": false, "zero": false},
      "axis": {"values": [2011,2012,2013,2014,2015,2016,2017,2018,2019,2020,2021], "format": "d", "title": "Time (yr)", "titleFontSize": 9, "titleFontWeight": "normal", "titleY": 32, "titleBaseline": "alphabetic", "labelPadding": 3, "labelFlush": false}}
  },
  "layer": [
    {
      "transform": [{"fold": ["UD2", "UD3", "UD4"], "as": ["k", "v"]}],
      "mark": {"type": "point", "filled": true, "size": 4, "opacity": 1, "strokeWidth": 0, "color": "blue"},
      "encoding": {
        "y": {"field": "v", "type": "quantitative", "scale": {"domain": [-20, 20], "nice": false, "zero": false},
          "axis": {"values": [-20,-15,-10,-5,0,5,10,15,20], "title": "(cm)", "titleAngle": 0, "titleFontSize": 9, "titleFontWeight": "normal", "titleX": -20, "titleY": 192, "titleAlign": "center", "titleBaseline": "middle", "labelPadding": 2, "labelFlush": false}}
      }
    },
    {
      "mark": {"type": "point", "filled": true, "size": 13, "opacity": 1, "strokeWidth": 0, "color": "black"},
      "encoding": {"y": {"field": "EW2", "type": "quantitative"}}
    },
    {
      "transform": [{"fold": ["EW", "NS", "UD"], "as": ["series", "cm"]}],
      "mark": {"type": "point", "filled": true, "opacity": 1, "strokeWidth": 0},
      "encoding": {
        "y": {"field": "cm", "type": "quantitative"},
        "size": {"condition": {"test": "datum.series === 'UD'", "value": 4}, "value": 13},
        "color": {"field": "series", "type": "nominal", "scale": {"domain": ["EW", "NS", "UD"], "range": ["black", "red", "blue"]},
          "legend": {"title": null, "orient": "bottom-left", "direction": "horizontal", "columns": 3, "gridAlign": "all", "offset": 6, "padding": 0, "symbolType": "circle", "symbolSize": 14, "symbolStrokeWidth": 0, "labelFontSize": 11, "labelOffset": 1, "columnPadding": -10, "labelColor": "black"}}
      }
    },
    {
      "mark": {"type": "point", "filled": true, "size": 13, "opacity": 1, "strokeWidth": 0, "color": "red"},
      "encoding": {"y": {"field": "NS2", "type": "quantitative"}}
    },
    {
      "transform": [{"filter": "datum.t < 2011.01"}],
      "mark": {"type": "text", "align": "left", "baseline": "alphabetic", "fontSize": 12, "color": "black"},
      "encoding": {
        "x": {"datum": 2011.25, "type": "quantitative"},
        "y": {"datum": 17.45, "type": "quantitative"},
        "text": {"value": "950296 (ShizuokaShimizushi2)"}
      }
    }
  ]
}
